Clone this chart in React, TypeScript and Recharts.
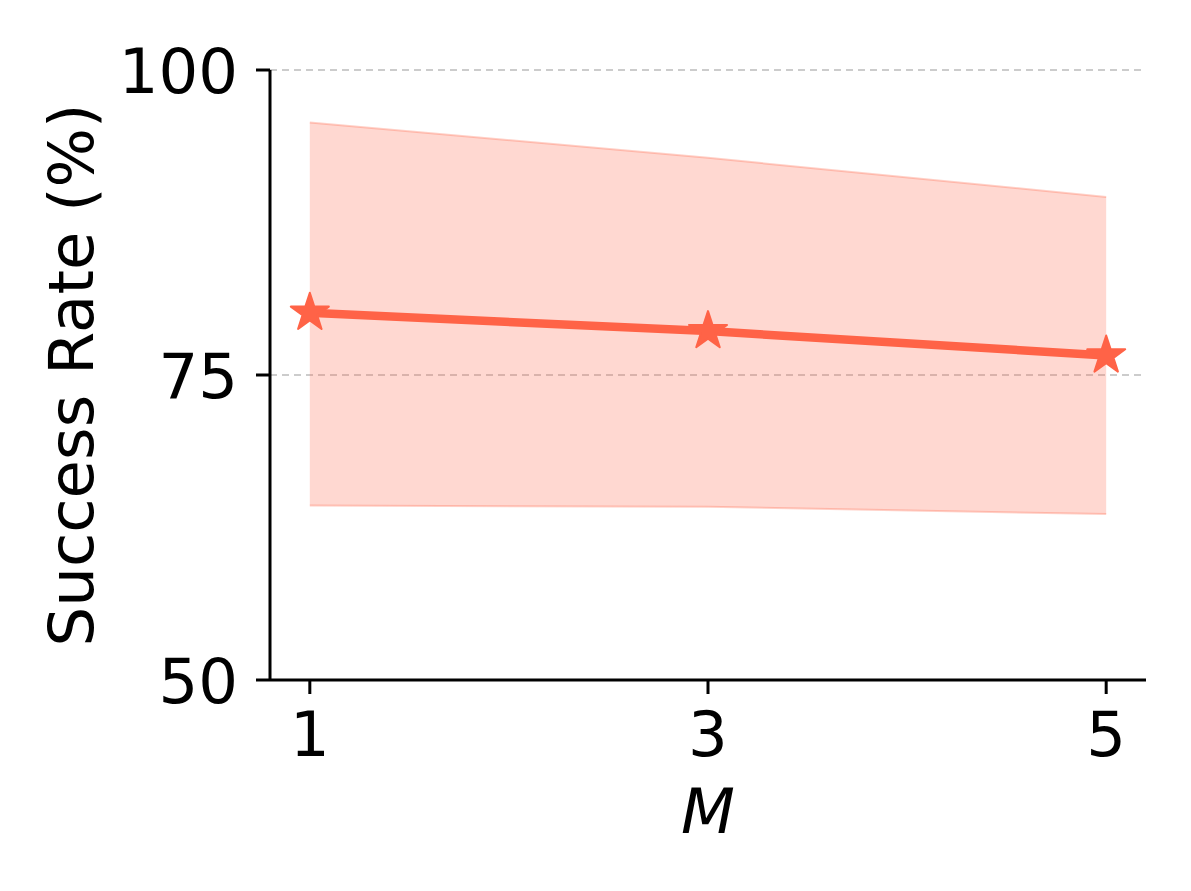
import { ComposedChart, Area, Line, XAxis, YAxis, CartesianGrid } from 'recharts';

const mValues = [1, 3, 5];
const meanRate = [80.1, 78.6, 76.6];
const upperRate = [95.7, 92.8, 89.6];
const lowerRate = [64.3, 64.2, 63.6];
const yTicks = [50, 75, 100];

const COLOR = '#FF6347';
const FONT = '"DejaVu Sans", sans-serif';
const FS = 62.5;

const data = mValues.map((m, i) => ({
    m,
    mean: meanRate[i],
    band: [lowerRate[i], upperRate[i]],
}));

function Star(props: any) {
    const { cx, cy, index } = props;
    if (cx == null || cy == null) return null;
    const R = 20;
    const r = R * 0.382;
    const pts: string[] = [];
    for (let k = 0; k < 10; k++) {
        const rad = k % 2 === 0 ? R : r;
        const a = -Math.PI / 2 + (k * Math.PI) / 5;
        pts.push(`${cx + rad * Math.cos(a)},${cy + rad * Math.sin(a)}`);
    }
    return <polygon key={`star-${index}`} points={pts.join(' ')} fill={COLOR} stroke={COLOR} strokeWidth={2} strokeLinejoin="round" />;
}

function YTick(props: any) {
    const { x, y, payload } = props;
    return (
        <text x={x - 4} y={y} dy="0.36em" textAnchor="end" fontSize={FS} fontFamily={FONT} fill="#000">
            {payload.value}
        </text>
    );
}

function XTick(props: any) {
    const { x, y, payload } = props;
    return (
        <text x={x} y={y} dy="0.76em" textAnchor="middle" fontSize={FS} fontFamily={FONT} fill="#000">
            {payload.value}
        </text>
    );
}

export default function App() {
    return (
        <div style={{ position: 'absolute', left: 0, top: 0, width: 1191, height: 891, background: '#fff' }}>
            <ComposedChart width={1191} height={891} data={data} margin={{ top: 70, right: 45, bottom: 0, left: 0 }}>
                <CartesianGrid vertical={false} stroke="#cccccc" strokeWidth={2} strokeDasharray="7 5" />
                <XAxis
                    type="number"
                    dataKey="m"
                    domain={[0.8, 5.2]}
                    ticks={mValues}
                    allowDataOverflow
                    height={211}
                    tickSize={14}
                    tickMargin={14}
                    axisLine={{ stroke: '#000', strokeWidth: 3 }}
                    tickLine={{ stroke: '#000', strokeWidth: 3 }}
                    tick={<XTick />}
                    label={({ viewBox }: any) => (
                        <text
                            x={viewBox.x + viewBox.width / 2}
                            y={833}
                            textAnchor="middle"
                            fontSize={FS}
                            fontStyle="italic"
                            fontFamily={FONT}
                            fill="#000"
                        >
                            M
                        </text>
                    )}
                />
                <YAxis
                    type="number"
                    domain={[50, 100]}
                    ticks={yTicks}
                    width={270}
                    tickSize={14}
                    tickMargin={14}
                    axisLine={{ stroke: '#000', strokeWidth: 3 }}
                    tickLine={{ stroke: '#000', strokeWidth: 3 }}
                    tick={<YTick />}
                    label={({ viewBox }: any) => {
                        const cy = viewBox.y + viewBox.height / 2;
                        return (
                            <text
                                x={93}
                                y={cy}
                                transform={`rotate(-90, 93, ${cy})`}
                                textAnchor="middle"
                                fontSize={FS}
                                fontFamily={FONT}
                                fill="#000"
                            >
                                Success Rate (%)
                            </text>
                        );
                    }}
                />
                <Area
                    type="linear"
                    dataKey="band"
                    fill={COLOR}
                    fillOpacity={0.25}
                    stroke={COLOR}
                    strokeOpacity={0.3}
                    strokeWidth={2}
                    isAnimationActive={false}
                    activeDot={false}
                />
                <Line
                    type="linear"
                    dataKey="mean"
                    stroke={COLOR}
                    strokeWidth={8.5}
                    dot={(p: any) => <Star {...p} key={`s-${p.index}`} />}
                    activeDot={false}
                    isAnimationActive={false}
                />
            </ComposedChart>
        </div>
    );
}
